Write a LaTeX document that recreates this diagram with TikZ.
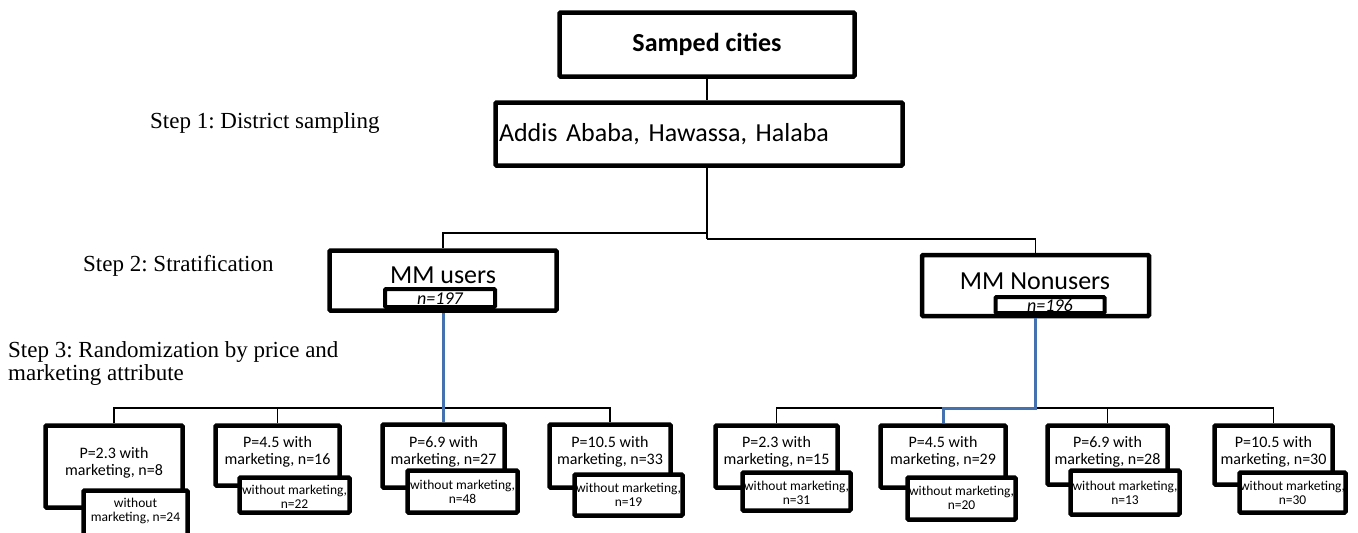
\documentclass[tikz,border=0pt]{standalone}
\usepackage{fontspec}
\setmainfont{Carlito}
\newfontfamily\stepfont{Liberation Serif}
\definecolor{mmblue}{RGB}{68,114,176}
\frenchspacing
\begin{document}
\begin{tikzpicture}[x=1pt,y=-1pt,
  bx/.style={draw, line width=4.5pt, rounded corners=1pt, fill=white, inner sep=0pt},
  nbx/.style={draw, line width=4pt, rounded corners=1pt, fill=white, inner sep=0pt},
  ln/.style={line width=1.3pt},
  bl/.style={line width=3pt, draw=mmblue},
  big/.style={font=\fontsize{26}{30}\selectfont, inner sep=0pt},
  nt/.style={font=\itshape\fontsize{18}{20}\selectfont, inner sep=0pt},
  ot/.style={font=\fontsize{16}{17}\selectfont, align=center, inner sep=0pt},
  itx/.style={font=\fontsize{13.5}{14}\selectfont, align=center, inner sep=0pt},
  stp/.style={font=\stepfont\fontsize{23}{23}\selectfont, align=left, inner sep=0pt, anchor=west}]
\useasboundingbox (0,0) rectangle (1358,533);

% top levels
\node[bx, minimum width=295, minimum height=64, font=\bfseries\fontsize{26}{30}\selectfont] (top) at (707,44.5) {Samped cities};
\node[bx, minimum width=407, minimum height=63, text width=400, inner xsep=3.5pt, align=left, font=\fontsize{26}{30}\selectfont] (addis) at (699,134) {Addis Ababa, Hawassa, Halaba};

\node[bx, minimum width=227, minimum height=60] (users) at (443,280.5) {};
\node[big] (userst) at (443,275.5) {MM users};
\node[nbx, minimum width=110, minimum height=18] (u197) at (440,298) {};
\node[nt] (u197t) at (440,299) {n=197};

\node[bx, minimum width=227, minimum height=61] (nonusers) at (1035.5,285.5) {};
\node[big] (nonuserst) at (1035,281) {MM Nonusers};
\node[nbx, minimum width=109, minimum height=16] (n196) at (1050,305) {};
\node[nt] (n196t) at (1050,305.5) {n=196};

% step labels
\node[stp] (s1) at (150,123) {Step 1: District sampling};
\node[stp] (s2) at (83,266) {Step 2: Stratification};
\node[stp] (s3) at (8,363.5) {Step 3: Randomization by price and\\marketing attribute};

% bottom boxes, users
\node[bx, minimum width=137, minimum height=82] (b1) at (114,466.5) {};
\node[ot] (b1t) at (114,463) {P=2.3 with\\marketing, n=8};
\node[bx, minimum width=104, minimum height=45] (c1) at (135.5,513) {};
\node[itx] (c1t) at (135.5,510.5) {without\\marketing, n=24};

\node[bx, minimum width=124, minimum height=60] (b2) at (277.5,455.5) {};
\node[ot] (b2t) at (277.5,451.5) {P=4.5 with\\marketing, n=16};
\node[bx, minimum width=110, minimum height=35] (c2) at (294.5,495) {};
\node[itx] (c2t) at (294.5,496.5) {without marketing,\\n=22};

\node[bx, minimum width=122, minimum height=63] (b3) at (443.5,456) {};
\node[ot] (b3t) at (443.5,451.5) {P=6.9 with\\marketing, n=27};
\node[bx, minimum width=110, minimum height=42] (c3) at (462.5,491.5) {};
\node[itx] (c3t) at (462.5,492) {without marketing,\\n=48};

\node[bx, minimum width=121, minimum height=63] (b4) at (610,456) {};
\node[ot] (b4t) at (610,451.5) {P=10.5 with\\marketing, n=33};
\node[bx, minimum width=108, minimum height=41] (c4) at (628.5,495) {};
\node[itx] (c4t) at (628.5,495) {without marketing,\\n=19};

% bottom boxes, nonusers
\node[bx, minimum width=122, minimum height=62] (b5) at (776.5,456.5) {};
\node[ot] (b5t) at (776.5,452) {P=2.3 with\\marketing, n=15};
\node[bx, minimum width=108, minimum height=38] (c5) at (796.5,491.5) {};
\node[itx] (c5t) at (796.5,492.5) {without marketing,\\n=31};

\node[bx, minimum width=125, minimum height=62] (b6) at (943,456.5) {};
\node[ot] (b6t) at (943,452) {P=4.5 with\\marketing, n=29};
\node[bx, minimum width=108, minimum height=42] (c6) at (961.5,498.5) {};
\node[itx] (c6t) at (961.5,497.5) {without marketing,\\n=20};

\node[bx, minimum width=120, minimum height=59] (b7) at (1107.5,455) {};
\node[ot] (b7t) at (1107.5,451.5) {P=6.9 with\\marketing, n=28};
\node[bx, minimum width=109, minimum height=44] (c7) at (1125,492.5) {};
\node[itx] (c7t) at (1125,493) {without marketing,\\n=13};

\node[bx, minimum width=118, minimum height=59] (b8) at (1273.5,455) {};
\node[ot] (b8t) at (1273.5,451.5) {P=10.5 with\\marketing, n=30};
\node[bx, minimum width=106, minimum height=40] (c8) at (1292.5,492.5) {};
\node[itx] (c8t) at (1292.5,493) {without marketing,\\n=30};

% connectors
\coordinate (jL) at (707,233);
\coordinate (jR) at (707,239);
\coordinate (hl) at (0,408);
\draw[ln] (top.south) -- (top.south |- addis.north);
\draw[ln] (top.south |- addis.south) -- (jR);
\draw[ln] (jL) -- (jL -| users.north) -- (users.north);
\draw[ln] (jR) -- (jR -| nonusers.north) -- (nonusers.north);

\draw[ln] (b1.north) -- (b1.north |- hl) -| (b4.north);
\draw[ln] (b2.north) -- (b2.north |- hl);
\draw[ln] (b3.north) -- (b3.north |- hl);
\draw[ln] (users.south) -- (users.south |- hl);
\draw[bl] (users.south) -- (users.south |- b3.north);

\draw[ln] (b5.north) -- (b5.north |- hl) -| (b8.north);
\draw[ln] (b6.north) -- (b6.north |- hl);
\draw[ln] (b7.north) -- (b7.north |- hl);
\draw[ln] (nonusers.south) -- (nonusers.south |- hl);
\draw[bl] (nonusers.south) -- (nonusers.south |- hl) -| (b6.north);
\end{tikzpicture}
\end{document}
